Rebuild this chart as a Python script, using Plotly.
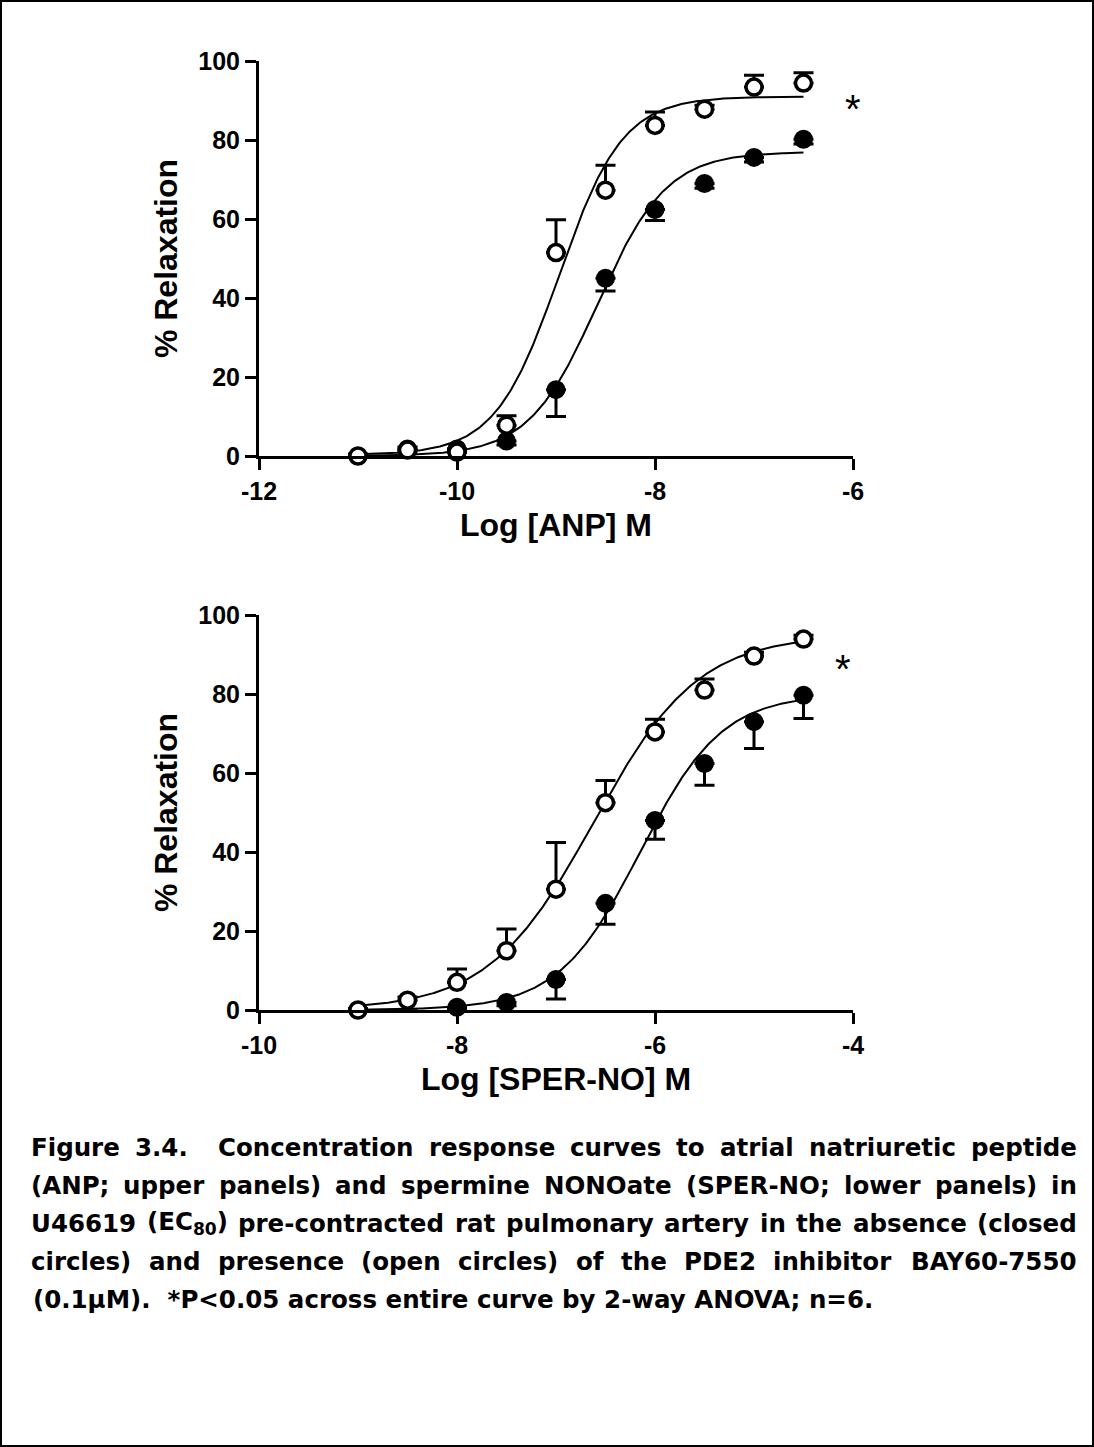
import re
import numpy as np
import plotly.graph_objects as go

# ---------------- data ----------------
# Upper panel: ANP
anp_x = [-11, -10.5, -10, -9.5, -9, -8.5, -8, -7.5, -7, -6.5]
anp_closed = [-0.4, 1.8, 1.8, 3.8, 16.8, 45.0, 62.4, 69.0, 75.6, 80.2]
anp_closed_sem = [0.5, 0.8, 0.8, 1.0, 6.8, 3.2, 2.8, 1.2, 1.2, 1.2]
anp_open = [0.0, 1.5, 1.0, 7.8, 51.5, 67.3, 83.7, 87.8, 93.4, 94.4]
anp_open_sem = [0.5, 0.8, 0.8, 2.4, 8.3, 6.3, 3.4, 1.0, 3.0, 2.6]
# fitted sigmoid (4-parameter logistic) parameters: bottom, top, logEC50, hill
anp_closed_fit = dict(bottom=0.0, top=77.0, logec50=-8.58, hill=1.25)
anp_open_fit = dict(bottom=0.3, top=91.0, logec50=-8.97, hill=1.35)

# Lower panel: SPER-NO
sper_x = [-9, -8.5, -8, -7.5, -7, -6.5, -6, -5.5, -5, -4.5]
sper_closed = [-0.3, -0.2, 0.7, 1.9, 7.7, 27.0, 48.0, 62.4, 73.0, 79.7]
sper_closed_sem = [0.4, 0.5, 0.6, 0.8, 4.9, 5.3, 4.8, 5.5, 6.8, 5.9]
sper_open = [0.0, 2.5, 7.0, 15.0, 30.6, 52.5, 70.4, 81.0, 89.6, 93.9]
sper_open_sem = [0.4, 0.8, 3.4, 5.5, 11.8, 5.6, 3.2, 2.8, 1.0, 1.0]
sper_closed_fit = dict(bottom=0.0, top=80.0, logec50=-6.15, hill=1.05)
sper_open_fit = dict(bottom=0.0, top=95.0, logec50=-6.62, hill=0.82)

anp_ticks = [-12, -10, -8, -6]
anp_ticklabels = ["-12", "-10", "-8", "-6"]
sper_ticks = [-10, -8, -6, -4]
sper_ticklabels = ["-10", "-8", "-6", "-4"]
y_ticks = [0, 20, 40, 60, 80, 100]
y_ticklabels = ["0", "20", "40", "60", "80", "100"]

caption_lines = [
    "Figure 3.4.  Concentration response curves to atrial natriuretic peptide",
    "(ANP; upper panels) and spermine NONOate (SPER-NO; lower panels) in",
    "U46619 (EC<sub>80</sub>) pre-contracted rat pulmonary artery in the absence (closed",
    "circles) and presence (open circles) of the PDE2 inhibitor BAY60-7550",
    "(0.1µM).  *P<0.05 across entire curve by 2-way ANOVA; n=6.",
]

# ---------------- helpers ----------------
W, H = 1094, 1447


def px_x(p):
    return p / W


def px_y(p):
    return 1 - p / H


def logistic(xs, p):
    xs = np.asarray(xs)
    return p["bottom"] + (p["top"] - p["bottom"]) / (1 + 10 ** ((p["logec50"] - xs) * p["hill"]))


# approximate advance widths (em) of DejaVu Sans Bold, used only to justify caption lines
DJB = {' ': 0.348, 'a': 0.675, 'b': 0.716, 'c': 0.593, 'd': 0.716, 'e': 0.678, 'f': 0.435,
       'g': 0.716, 'h': 0.712, 'i': 0.343, 'j': 0.343, 'k': 0.665, 'l': 0.343, 'm': 1.042,
       'n': 0.712, 'o': 0.687, 'p': 0.716, 'q': 0.716, 'r': 0.493, 's': 0.595, 't': 0.478,
       'u': 0.712, 'v': 0.652, 'w': 0.920, 'x': 0.642, 'y': 0.652, 'z': 0.582,
       'A': 0.774, 'B': 0.762, 'C': 0.734, 'D': 0.830, 'E': 0.683, 'F': 0.683, 'G': 0.821,
       'H': 0.837, 'I': 0.372, 'J': 0.372, 'K': 0.775, 'L': 0.637, 'M': 0.995, 'N': 0.837,
       'O': 0.850, 'P': 0.733, 'Q': 0.850, 'R': 0.770, 'S': 0.720, 'T': 0.682, 'U': 0.812,
       'V': 0.774, 'W': 1.103, 'X': 0.762, 'Y': 0.724, 'Z': 0.691,
       '(': 0.457, ')': 0.457, '.': 0.380, ',': 0.380, ';': 0.400, ':': 0.400, '-': 0.415,
       '*': 0.500, '<': 0.838, '=': 0.838, 'µ': 0.712}
for d in "0123456789":
    DJB[d] = 0.696


def word_width(word, size):
    total = 0.0
    for part, is_sub in [(m.group(1) or m.group(2), m.group(2) is not None)
                         for m in re.finditer(r"([^<]+)|<sub>([^<]*)</sub>", word)]:
        s = size * (0.7 if is_sub else 1.0)
        total += sum(DJB.get(ch, 0.65) for ch in part) * s
    return total


fig = go.Figure()

AX_FONT = "Liberation Sans, Arial, sans-serif"


def add_panel(xs, closed, closed_sem, opened, opened_sem, fit_c, fit_o, xname, yname):
    xx = np.linspace(min(xs), max(xs), 300)
    for fit in (fit_c, fit_o):
        fig.add_trace(go.Scatter(x=xx, y=logistic(xx, fit), mode="lines",
                                 line=dict(color="black", width=2),
                                 xaxis=xname, yaxis=yname, showlegend=False,
                                 cliponaxis=False, hoverinfo="skip"))
    # closed circles: error bars downward
    fig.add_trace(go.Scatter(
        x=xs, y=closed, mode="markers", xaxis=xname, yaxis=yname, showlegend=False,
        marker=dict(symbol="circle", size=17, color="black", line=dict(color="black", width=2)),
        error_y=dict(type="data", symmetric=False, array=[0] * len(xs), arrayminus=closed_sem,
                     color="black", thickness=3, width=10),
        cliponaxis=False))
    # open circles: error bars upward
    fig.add_trace(go.Scatter(
        x=xs, y=opened, mode="markers", xaxis=xname, yaxis=yname, showlegend=False,
        marker=dict(symbol="circle", size=16, color="white", line=dict(color="black", width=3.5)),
        error_y=dict(type="data", symmetric=False, array=opened_sem, arrayminus=[0] * len(xs),
                     color="black", thickness=3, width=10),
        cliponaxis=False))


add_panel(anp_x, anp_closed, anp_closed_sem, anp_open, anp_open_sem,
          anp_closed_fit, anp_open_fit, "x", "y")
add_panel(sper_x, sper_closed, sper_closed_sem, sper_open, sper_open_sem,
          sper_closed_fit, sper_open_fit, "x2", "y2")

axis_common = dict(showgrid=False, zeroline=False, showline=True, linecolor="black",
                   linewidth=3, ticks="outside", ticklen=11, tickwidth=3, tickcolor="black",
                   tickfont=dict(family=AX_FONT, size=25, color="black", weight="bold"),
                   automargin=False)

title_font = dict(family=AX_FONT, size=32, color="black", weight="bold")

fig.update_layout(
    width=W, height=H, margin=dict(l=0, r=0, t=0, b=0),
    plot_bgcolor="white", paper_bgcolor="white", showlegend=False,
    xaxis=dict(domain=[px_x(259), px_x(853)], range=[-12, -6], tickvals=anp_ticks,
               ticktext=anp_ticklabels, anchor="y",
               title=dict(text="Log [ANP] M", font=title_font, standoff=10), **axis_common),
    yaxis=dict(domain=[px_y(456), px_y(61)], range=[0, 100], tickvals=y_ticks,
               ticktext=y_ticklabels, anchor="x",
               title=dict(text="% Relaxation", font=title_font, standoff=12), **axis_common),
    xaxis2=dict(domain=[px_x(259), px_x(853)], range=[-10, -4], tickvals=sper_ticks,
                ticktext=sper_ticklabels, anchor="y2",
                title=dict(text="Log [SPER-NO] M", font=title_font, standoff=10), **axis_common),
    yaxis2=dict(domain=[px_y(1010), px_y(615)], range=[0, 100], tickvals=y_ticks,
                ticktext=y_ticklabels, anchor="x2",
                title=dict(text="% Relaxation", font=title_font, standoff=12), **axis_common),
)

annotations = [
    dict(text="*", x=px_x(853), y=px_y(109), xref="paper", yref="paper", showarrow=False,
         font=dict(family=AX_FONT, size=40, color="black"), xanchor="center", yanchor="middle"),
    dict(text="*", x=px_x(843), y=px_y(669), xref="paper", yref="paper", showarrow=False,
         font=dict(family=AX_FONT, size=40, color="black"), xanchor="center", yanchor="middle"),
]

CAP_SIZE = 24.5
CAP_FONT = dict(family="DejaVu Sans, sans-serif", size=CAP_SIZE, color="black", weight="bold")
CAP_LEFT, CAP_RIGHT = 31, 1077
cap_y = [1147, 1185, 1223, 1261, 1299]

for i, (line, yy) in enumerate(zip(caption_lines, cap_y)):
    if i == len(caption_lines) - 1:
        annotations.append(dict(text=line, x=px_x(CAP_LEFT), y=px_y(yy), xref="paper",
                                yref="paper", showarrow=False, xanchor="left",
                                yanchor="middle", font=CAP_FONT))
        continue
    # justified line: place each word separately
    tokens = re.split(r"( +)", line)
    words = tokens[0::2]
    gaps = [len(g) for g in tokens[1::2]]
    widths = [word_width(w, CAP_SIZE) for w in words]
    n_sp = sum(gaps)
    extra = (CAP_RIGHT - CAP_LEFT - sum(widths)) / n_sp
    xpos = CAP_LEFT
    for k, (w, wd) in enumerate(zip(words, widths)):
        annotations.append(dict(text=w, x=px_x(xpos + wd / 2), y=px_y(yy), xref="paper",
                                yref="paper", showarrow=False, xanchor="center",
                                yanchor="middle", font=CAP_FONT))
        if k < len(gaps):
            xpos += wd + gaps[k] * extra

fig.update_layout(annotations=annotations)

fig.add_shape(type="rect", xref="paper", yref="paper",
              x0=px_x(1), x1=px_x(1093), y0=px_y(1446), y1=px_y(1),
              line=dict(color="black", width=2), fillcolor="rgba(0,0,0,0)")

fig.write_html("out.html", config={"displayModeBar": False},
               post_script="document.body.style.margin='0';")
